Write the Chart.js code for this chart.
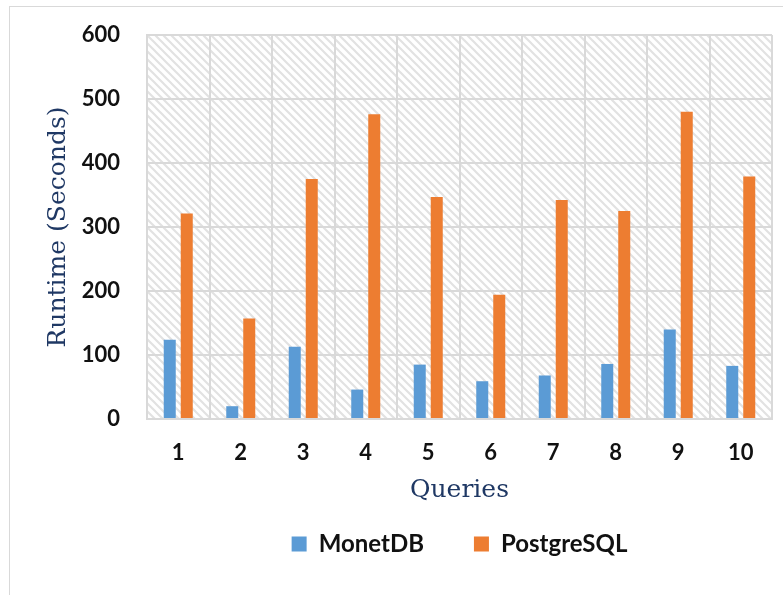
<!DOCTYPE html>
<html>
<head>
<meta charset="utf-8">
<script src="https://cdn.jsdelivr.net/npm/chart.js@4"></script>
<style>
  html, body { margin: 0; padding: 0; background: #fff; }
  #wrap { position: relative; width: 783px; height: 595px; overflow: hidden; }
  #frame { position: absolute; left: 9px; top: 6px; width: 800px; height: 620px; border: 1.5px solid #d9d9d9; box-sizing: border-box; }
  canvas { position: absolute; left: 0; top: 0; }
</style>
</head>
<body>
<div id="wrap">
  <div id="frame"></div>
  <canvas id="c" width="783" height="595"></canvas>
</div>
<script>
const categories = ['1', '2', '3', '4', '5', '6', '7', '8', '9', '10'];
const monetdb = [124, 20, 113, 46, 85, 59, 68, 86, 140, 83];
const postgresql = [321, 157, 375, 476, 347, 194, 342, 325, 480, 379];
const seriesNames = ['MonetDB', 'PostgreSQL'];
const yTicks = [0, 100, 200, 300, 400, 500, 600];

function makePattern() {
  const p = document.createElement('canvas');
  p.width = 8; p.height = 8;
  const g = p.getContext('2d');
  g.fillStyle = '#ffffff';
  g.fillRect(0, 0, 8, 8);
  g.strokeStyle = '#e2e2e2';
  g.lineWidth = 2.2;
  g.beginPath();
  g.moveTo(-2, -2); g.lineTo(10, 10);
  g.moveTo(-10, -2); g.lineTo(2, 10);
  g.moveTo(6, -2); g.lineTo(18, 10);
  g.stroke();
  return p;
}

const hatchPlugin = {
  id: 'hatch',
  beforeDraw(chart) {
    const { ctx, chartArea } = chart;
    ctx.save();
    ctx.fillStyle = ctx.createPattern(makePattern(), 'repeat');
    ctx.fillRect(chartArea.left, chartArea.top, chartArea.right - chartArea.left, chartArea.bottom - chartArea.top);
    ctx.restore();
  }
};

// centre the legend under the plot area rather than the whole canvas
const legendShift = {
  id: 'legendShift',
  afterLayout(chart) {
    const l = chart.legend, ca = chart.chartArea;
    if (!l) return;
    const shift = (ca.left + ca.right) / 2 - (l.left + l.right) / 2;
    l.left += shift; l.right += shift;
  }
};

const tickFont = { family: 'Lato', weight: 'bold', size: 22 };
const legendFont = { family: 'Lato', weight: 'bold', size: 24 };
const titleFont = { family: 'DejaVu Serif', size: 25 };
const navy = '#1f3864';

new Chart(document.getElementById('c'), {
  type: 'bar',
  data: {
    labels: categories,
    datasets: [
      { label: seriesNames[0], data: monetdb, backgroundColor: '#5b9bd5', categoryPercentage: 0.544, barPercentage: 0.706 },
      { label: seriesNames[1], data: postgresql, backgroundColor: '#ed7d31', categoryPercentage: 0.544, barPercentage: 0.706 }
    ]
  },
  options: {
    responsive: false,
    animation: false,
    layout: { padding: { left: 0, right: 11, top: 35, bottom: 29 } },
    plugins: {
      tooltip: { enabled: false },
      legend: {
        position: 'bottom',
        labels: {
          font: legendFont,
          color: '#111',
          boxWidth: 15,
          boxHeight: 15,
          padding: 50
        }
      }
    },
    scales: {
      x: {
        grid: { color: '#d9d9d9', lineWidth: 2, drawTicks: false, offset: true },
        border: { color: '#d9d9d9', width: 2 },
        ticks: { font: tickFont, color: '#111', padding: 21, maxRotation: 0 },
        title: { display: true, text: 'Queries', font: titleFont, color: navy, padding: { top: 0, bottom: -23 } },
        afterFit(scale) { scale.height = 63; scale.paddingLeft = 0; scale.paddingRight = 0; }
      },
      y: {
        min: 0, max: 600,
        afterBuildTicks(scale) { scale.ticks = yTicks.map(v => ({ value: v })); },
        grid: { color: '#d9d9d9', lineWidth: 2, drawTicks: false },
        border: { color: '#d9d9d9', width: 2 },
        ticks: { font: tickFont, color: '#111', padding: 27 },
        title: { display: true, text: 'Runtime (Seconds)', font: titleFont, color: navy, padding: { top: 43, bottom: 0 } },
        afterFit(scale) { scale.width = 147; scale.paddingTop = 0; scale.paddingBottom = 0; }
      }
    }
  },
  plugins: [hatchPlugin, legendShift]
});
</script>
</body>
</html>
